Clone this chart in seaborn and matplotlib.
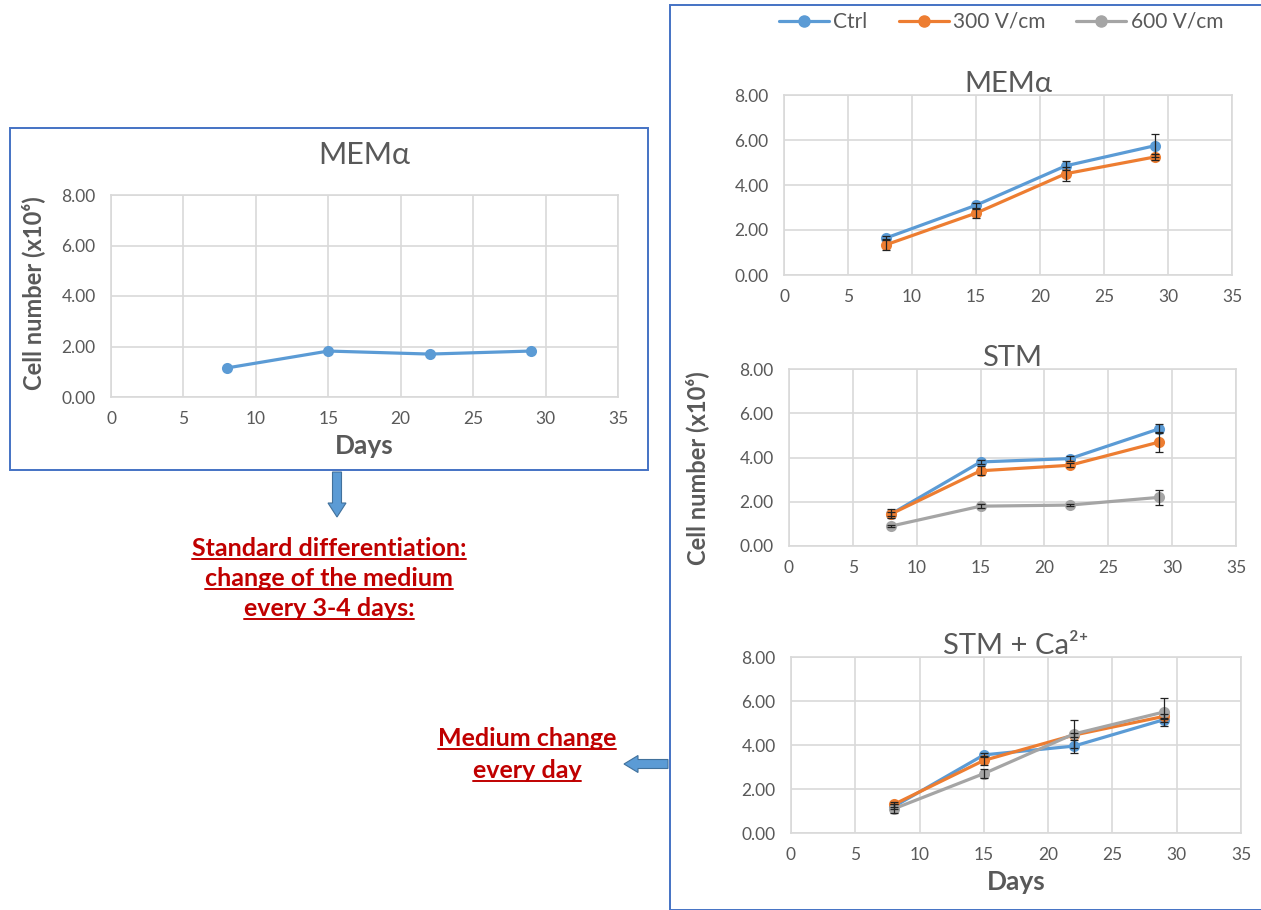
import numpy as np
import pandas as pd
import matplotlib
matplotlib.use("Agg")
import matplotlib.pyplot as plt
import seaborn as sns
from matplotlib.lines import Line2D
from matplotlib.patches import Rectangle, FancyArrow

# jours de mesure
days = [8, 15, 22, 29]

# graphique de gauche : MEMalpha, milieu changé tous les 3-4 jours
left_ctrl = [1.15, 1.82, 1.70, 1.82]

# MEMalpha, changement quotidien
mem_ctrl = [1.65, 3.10, 4.85, 5.75]
mem_ctrl_err = [0.10, 0.10, 0.20, 0.50]
mem_300 = [1.35, 2.75, 4.50, 5.25]
mem_300_err = [0.25, 0.20, 0.30, 0.15]

# STM
stm_ctrl = [1.45, 3.80, 3.95, 5.30]
stm_ctrl_err = [0.10, 0.10, 0.10, 0.20]
stm_300 = [1.45, 3.40, 3.65, 4.70]
stm_300_err = [0.20, 0.20, 0.10, 0.45]
stm_600 = [0.90, 1.80, 1.85, 2.20]
stm_600_err = [0.05, 0.10, 0.05, 0.35]

# STM + Ca2+
ca_ctrl = [1.20, 3.55, 3.95, 5.15]
ca_ctrl_err = [0.10, 0.10, 0.30, 0.10]
ca_300 = [1.30, 3.30, 4.45, 5.30]
ca_300_err = [0.10, 0.20, 0.10, 0.10]
ca_600 = [1.10, 2.70, 4.50, 5.50]
ca_600_err = [0.20, 0.20, 0.65, 0.65]

group_names = ["Ctrl", "300 V/cm", "600 V/cm"]
colors = {"Ctrl": "#5B9BD5", "300 V/cm": "#ED7D31", "600 V/cm": "#A5A5A5"}
x_ticks = [0, 5, 10, 15, 20, 25, 30, 35]
y_ticks = [0, 2, 4, 6, 8]

W, H = 1261, 910
TXT = "#595959"
GRID = "#D9D9D9"
RED = "#C00000"
BLUE_BOX = "#4472C4"
ARROW = "#5B9BD5"

sns.set_style("white")
plt.rcParams["font.family"] = ["Lato", "DejaVu Sans"]

fig = plt.figure(figsize=(W / 100, H / 100), dpi=100)


def px_axes(x0, y0, x1, y1):
    """Crée des axes à partir de coordonnées en pixels (origine en haut)."""
    return fig.add_axes([x0 / W, 1 - y1 / H, (x1 - x0) / W, (y1 - y0) / H])


def style_axes(ax):
    ax.set_xlim(0, 35)
    ax.set_ylim(0, 8)
    ax.set_xticks(x_ticks)
    ax.set_yticks(y_ticks)
    ax.set_yticklabels([f"{v:.2f}" for v in y_ticks])
    ax.grid(True, color=GRID, linewidth=1.2)
    ax.set_axisbelow(True)
    for s in ax.spines.values():
        s.set_color(GRID)
        s.set_linewidth(1.2)
    ax.tick_params(axis="both", length=0, labelsize=12.5, colors=TXT)
    ax.tick_params(axis="x", pad=10)
    ax.tick_params(axis="y", pad=11)
    ax.set_xlabel("")
    ax.set_ylabel("")


def draw_series(ax, series):
    rows = []
    for name, vals, errs in series:
        for d, v in zip(days, vals):
            rows.append({"day": d, "count": v, "group": name})
    df = pd.DataFrame(rows)
    sns.lineplot(data=df, x="day", y="count", hue="group",
                 palette=colors, hue_order=[s[0] for s in series],
                 marker="o", markersize=8, markeredgewidth=0,
                 linewidth=2.3, legend=False, ax=ax, zorder=3)
    for name, vals, errs in series:
        if errs is not None:
            ax.errorbar(days, vals, yerr=errs, fmt="none", ecolor="#222222",
                        elinewidth=0.9, capsize=3, capthick=0.9, zorder=4)


# --- graphique de gauche ---
ax_l = px_axes(111, 195, 618, 397)
draw_series(ax_l, [("Ctrl", left_ctrl, None)])
style_axes(ax_l)
ax_l.set_title("MEMα", fontsize=22, color=TXT, pad=22)
ax_l.set_xlabel("Days", fontsize=19, fontweight="bold", color=TXT, labelpad=5)
fig.text(33 / W, 1 - 293 / H, "Cell number (x10⁶)", rotation=90,
         ha="center", va="center", fontsize=17, fontweight="bold", color=TXT)

# --- graphiques de droite ---
ax_a = px_axes(784, 95, 1232, 275)
draw_series(ax_a, [("Ctrl", mem_ctrl, mem_ctrl_err),
                   ("300 V/cm", mem_300, mem_300_err)])
style_axes(ax_a)
ax_a.set_title("MEMα", fontsize=21, color=TXT, pad=2)

ax_b = px_axes(789, 369, 1236, 546)
draw_series(ax_b, [("Ctrl", stm_ctrl, stm_ctrl_err),
                   ("300 V/cm", stm_300, stm_300_err),
                   ("600 V/cm", stm_600, stm_600_err)])
style_axes(ax_b)
ax_b.set_title("STM", fontsize=21, color=TXT, pad=2)

ax_c = px_axes(791, 657, 1241, 833)
draw_series(ax_c, [("Ctrl", ca_ctrl, ca_ctrl_err),
                   ("300 V/cm", ca_300, ca_300_err),
                   ("600 V/cm", ca_600, ca_600_err)])
style_axes(ax_c)
ax_c.set_title("STM + Ca²⁺", fontsize=21, color=TXT, pad=2)
ax_c.set_xlabel("Days", fontsize=19, fontweight="bold", color=TXT, labelpad=5)

fig.text(697 / W, 1 - 468 / H, "Cell number (x10⁶)", rotation=90,
         ha="center", va="center", fontsize=17, fontweight="bold", color=TXT)

# légende commune
handles = [Line2D([0], [0], color=colors[g], marker="o", markersize=8,
                  linewidth=2.3) for g in group_names]
fig.legend(handles, group_names, loc="center", ncol=3,
           bbox_to_anchor=(1001 / W, 1 - 22 / H), frameon=False,
           fontsize=15, labelcolor=TXT, handlelength=2.4,
           handletextpad=0.2, columnspacing=1.5)

# cadres
inch = fig.dpi_scale_trans
fig.add_artist(Rectangle((10 / 100, (H - 470) / 100), 638 / 100, 342 / 100,
                         transform=inch, fill=False, edgecolor=BLUE_BOX,
                         linewidth=1.4))
fig.add_artist(Rectangle((670 / 100, 0), 600 / 100, (H - 5) / 100,
                         transform=inch, fill=False, edgecolor=BLUE_BOX,
                         linewidth=1.4))

# flèches
fig.add_artist(FancyArrow(337 / 100, (H - 472) / 100, 0, -0.45,
                          width=0.09, head_width=0.18, head_length=0.14,
                          length_includes_head=True, transform=inch,
                          facecolor=ARROW, edgecolor="#41719C", linewidth=0.8))
fig.add_artist(FancyArrow(668 / 100, (H - 764) / 100, -0.44, 0,
                          width=0.09, head_width=0.17, head_length=0.14,
                          length_includes_head=True, transform=inch,
                          facecolor=ARROW, edgecolor="#41719C", linewidth=0.8))

# textes rouges soulignés
red_texts = []
for line, y in [("Standard differentiation:", 548),
                ("change of the medium", 578),
                ("every 3-4 days:", 608)]:
    red_texts.append(fig.text(329 / W, 1 - y / H, line, ha="center",
                              va="center", fontsize=18, fontweight="bold",
                              color=RED))
for line, y in [("Medium change", 738), ("every day", 770)]:
    red_texts.append(fig.text(527 / W, 1 - y / H, line, ha="center",
                              va="center", fontsize=18, fontweight="bold",
                              color=RED))

fig.canvas.draw()
renderer = fig.canvas.get_renderer()
for t in red_texts:
    bb = t.get_window_extent(renderer)
    fig.add_artist(Line2D([bb.x0 / W, bb.x1 / W],
                          [(bb.y0 + 1) / H, (bb.y0 + 1) / H],
                          transform=fig.transFigure, color=RED, linewidth=1.4))

fig.savefig("out.png", dpi=100)
